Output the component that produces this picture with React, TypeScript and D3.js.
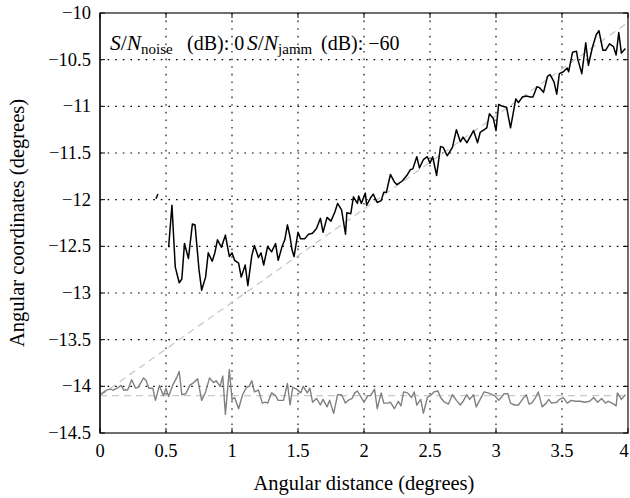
import * as d3 from "d3";

// x positions (degrees) and angular coordinate estimates
const fragX = [0.424, 0.439];
const fragY = [-11.99, -11.94];

const blackX = [
  0.52, 0.545, 0.57, 0.6, 0.62, 0.64, 0.67, 0.7, 0.72, 0.75, 0.77, 0.8, 0.82, 0.85, 0.87, 0.89, 0.92, 0.95, 0.98, 1.0,
  1.02, 1.05, 1.07, 1.1, 1.12, 1.15, 1.17, 1.2, 1.22, 1.24, 1.27, 1.3, 1.33, 1.35, 1.38, 1.4, 1.42, 1.44, 1.455, 1.47,
  1.5, 1.52, 1.55, 1.58, 1.61, 1.64, 1.67, 1.69, 1.72, 1.75, 1.78, 1.8, 1.83, 1.86, 1.87, 1.9, 1.92, 1.95, 1.96, 1.98,
  2.01, 2.02, 2.05, 2.07, 2.1, 2.13, 2.15, 2.17, 2.2, 2.23, 2.25, 2.29, 2.33, 2.35, 2.37, 2.4, 2.42, 2.45, 2.48, 2.5,
  2.52, 2.55, 2.58, 2.6, 2.63, 2.67, 2.7, 2.73, 2.75, 2.78, 2.83, 2.86, 2.88, 2.93, 2.95, 2.98, 3.0, 3.02, 3.05, 3.08,
  3.11, 3.15, 3.17, 3.2, 3.23, 3.26, 3.28, 3.31, 3.33, 3.36, 3.39, 3.41, 3.44, 3.46, 3.48, 3.51, 3.54, 3.55, 3.58, 3.61,
  3.62, 3.65, 3.68, 3.7, 3.73, 3.76, 3.78, 3.81, 3.83, 3.86, 3.89, 3.91, 3.93, 3.95, 3.98,
];
const blackY = [
  -12.51, -12.06, -12.72, -12.89, -12.85, -12.47, -12.63, -12.26, -12.27, -12.75, -12.97, -12.83, -12.57, -12.66, -12.57, -12.43, -12.51, -12.38, -12.61, -12.57,
  -12.65, -12.68, -12.83, -12.7, -12.92, -12.6, -12.49, -12.62, -12.57, -12.7, -12.5, -12.56, -12.47, -12.65, -12.5, -12.43, -12.27, -12.4, -12.54, -12.61,
  -12.35, -12.42, -12.42, -12.37, -12.36, -12.31, -12.2, -12.35, -12.19, -12.23, -12.13, -12.04, -12.11, -12.37, -12.14, -12.15, -11.97, -12.04, -11.96, -12.04,
  -11.93, -12.06, -11.98, -11.94, -12.03, -12.01, -11.92, -11.92, -11.73, -11.81, -11.84, -11.8, -11.73, -11.68, -11.67, -11.54, -11.66, -11.57, -11.54, -11.61,
  -11.54, -11.74, -11.43, -11.44, -11.53, -11.44, -11.25, -11.38, -11.33, -11.39, -11.26, -11.39, -11.28, -11.23, -11.08, -11.13, -11.26, -10.98, -11.0, -11.01,
  -11.23, -10.92, -10.96, -10.9, -10.89, -10.9, -10.9, -10.79, -10.8, -10.85, -10.68, -10.66, -10.74, -10.87, -10.65, -10.63, -10.59, -10.63, -10.42, -10.41,
  -10.5, -10.65, -10.32, -10.56, -10.37, -10.23, -10.19, -10.4, -10.4, -10.33, -10.36, -10.45, -10.21, -10.43, -10.38,
];

const grayX = [
  0, 0.02, 0.05, 0.08, 0.1, 0.13, 0.16, 0.18, 0.21, 0.24, 0.27, 0.29, 0.33, 0.35, 0.37, 0.4, 0.42, 0.45, 0.48, 0.5,
  0.52, 0.55, 0.58, 0.6, 0.62, 0.65, 0.68, 0.71, 0.74, 0.77, 0.8, 0.83, 0.86, 0.88, 0.91, 0.93, 0.95, 0.98, 1.0, 1.02,
  1.05, 1.08, 1.11, 1.13, 1.15, 1.17, 1.2, 1.23, 1.25, 1.27, 1.3, 1.33, 1.35, 1.39, 1.42, 1.44, 1.46, 1.49, 1.52, 1.54,
  1.57, 1.59, 1.61, 1.64, 1.67, 1.69, 1.72, 1.74, 1.77, 1.8, 1.83, 1.86, 1.88, 1.91, 1.93, 1.95, 1.98, 2.0, 2.03, 2.05,
  2.08, 2.1, 2.13, 2.15, 2.18, 2.2, 2.23, 2.26, 2.28, 2.3, 2.33, 2.36, 2.38, 2.4, 2.43, 2.45, 2.48, 2.51, 2.53, 2.56,
  2.58, 2.61, 2.64, 2.67, 2.7, 2.73, 2.75, 2.78, 2.8, 2.83, 2.85, 2.88, 2.91, 2.94, 2.97, 2.99, 3.02, 3.04, 3.06, 3.09,
  3.11, 3.14, 3.17, 3.2, 3.23, 3.25, 3.27, 3.3, 3.32, 3.35, 3.38, 3.4, 3.42, 3.46, 3.48, 3.51, 3.54, 3.57, 3.6, 3.64,
  3.67, 3.71, 3.74, 3.77, 3.8, 3.83, 3.85, 3.88, 3.91, 3.92, 3.95, 3.98,
];
const grayY = [
  -14.09, -14.07, -14.04, -14.03, -14.04, -14.02, -13.99, -14.04, -14.04, -13.93, -14.02, -14.01, -13.91, -13.94, -14.02, -14.02, -14.15, -13.99, -14.1, -14.02,
  -14.11, -13.99, -13.91, -13.84, -14.09, -14.08, -13.99, -13.96, -13.92, -14.15, -14.06, -13.91, -13.96, -13.94, -14.0, -13.89, -14.3, -13.82, -14.14, -14.12,
  -14.24, -14.09, -14.01, -14.0, -13.94, -14.06, -14.04, -14.18, -14.17, -14.18, -14.07, -14.1, -14.15, -14.15, -13.97, -14.2, -14.01, -14.03, -14.07, -14.0,
  -14.07, -14.02, -14.17, -14.13, -14.2, -14.14, -14.22, -14.15, -14.29, -14.09, -14.09, -14.18, -14.15, -14.13, -14.07, -14.05, -14.12, -14.17, -14.1, -14.1,
  -14.03, -14.24, -14.07, -14.18, -14.18, -14.17, -14.24, -14.16, -14.21, -14.06, -14.07, -14.12, -14.06, -14.2, -14.14, -14.29, -14.12, -14.09, -14.06, -14.05,
  -14.12, -14.17, -14.19, -14.09, -14.15, -14.2, -14.16, -14.09, -14.14, -14.09, -14.22, -14.14, -14.06, -14.07, -14.09, -14.1, -14.15, -14.12, -14.08, -14.08,
  -14.18, -14.2, -14.2, -14.14, -14.09, -14.19, -14.18, -14.12, -14.06, -14.22, -14.18, -14.14, -14.18, -14.17, -14.14, -14.12, -14.18, -14.15, -14.16, -14.16,
  -14.17, -14.16, -14.12, -14.17, -14.13, -14.18, -14.16, -14.18, -14.21, -14.07, -14.14, -14.09,
];

// reference lines (dashed)
const diagX = [0, 4];
const diagY = [-14.1, -10.1];
const flatX = [0, 4];
const flatY = [-14.1, -14.1];

const xTicks = [0, 0.5, 1, 1.5, 2, 2.5, 3, 3.5, 4];
const xTickLabels = ["0", "0.5", "1", "1.5", "2", "2.5", "3", "3.5", "4"];
const yTicks = [-14.5, -14, -13.5, -13, -12.5, -12, -11.5, -11, -10.5, -10];
const yTickLabels = ["−14.5", "−14", "−13.5", "−13", "−12.5", "−12", "−11.5", "−11", "−10.5", "−10"];

const W = 630;
const H = 498;
const left = 100;
const right = 628;
const top = 13;
const bottom = 433;
const font = "'Liberation Serif', 'DejaVu Serif', serif";

export default function App() {
  const x = d3.scaleLinear().domain([0, 4]).range([left, right]);
  const y = d3.scaleLinear().domain([-14.5, -10]).range([bottom, top]);

  const line = d3
    .line<[number, number]>()
    .x((d) => x(d[0]))
    .y((d) => y(d[1]));

  const pts = (xs: number[], ys: number[]) => xs.map((v, i) => [v, ys[i]] as [number, number]);

  return (
    <svg width={W} height={H} style={{ position: "absolute", left: 0, top: 0, background: "#fff" }} fontFamily={font}>
      {/* grid */}
      {xTicks.slice(1, -1).map((t) => (
        <line key={"gx" + t} x1={x(t)} x2={x(t)} y1={top} y2={bottom} stroke="#000" strokeWidth={1.1} strokeDasharray="1.6,6" />
      ))}
      {yTicks.slice(1, -1).map((t) => (
        <line key={"gy" + t} x1={left} x2={right} y1={y(t)} y2={y(t)} stroke="#000" strokeWidth={1.1} strokeDasharray="1.6,6" />
      ))}

      {/* dashed reference lines */}
      <path d={line(pts(flatX, flatY)) ?? ""} fill="none" stroke="#c8c8c8" strokeWidth={1.3} strokeDasharray="7,5" />
      <path d={line(pts(diagX, diagY)) ?? ""} fill="none" stroke="#c8c8c8" strokeWidth={1.3} strokeDasharray="7,5" />

      {/* series */}
      <path d={line(pts(grayX, grayY)) ?? ""} fill="none" stroke="#808080" strokeWidth={1.4} strokeLinejoin="round" />
      <path d={line(pts(fragX, fragY)) ?? ""} fill="none" stroke="#000" strokeWidth={1.5} />
      <path d={line(pts(blackX, blackY)) ?? ""} fill="none" stroke="#000" strokeWidth={1.5} strokeLinejoin="round" />

      {/* frame */}
      <rect x={left} y={top} width={right - left} height={bottom - top} fill="none" stroke="#222" strokeWidth={1.3} />
      <line x1={left} x2={left} y1={top} y2={bottom} stroke="#333" strokeWidth={2} />

      {/* ticks */}
      {xTicks.map((t) => (
        <g key={"tx" + t}>
          <line x1={x(t)} x2={x(t)} y1={bottom} y2={bottom - 5} stroke="#000" />
          <line x1={x(t)} x2={x(t)} y1={top} y2={top + 5} stroke="#000" />
        </g>
      ))}
      {yTicks.map((t) => (
        <g key={"ty" + t}>
          <line x1={left} x2={left + 5} y1={y(t)} y2={y(t)} stroke="#000" />
          <line x1={right} x2={right - 5} y1={y(t)} y2={y(t)} stroke="#000" />
        </g>
      ))}

      {/* tick labels */}
      {xTicks.map((t, i) => (
        <text key={"lx" + t} x={Math.min(x(t), 624)} y={457} textAnchor="middle" fontSize={18.5} fill="#000">
          {xTickLabels[i]}
        </text>
      ))}
      {yTicks.map((t, i) => (
        <text key={"ly" + t} x={91} y={y(t) + 6} textAnchor="end" fontSize={18.5} fill="#000">
          {yTickLabels[i]}
        </text>
      ))}

      {/* axis titles */}
      <text x={(left + right) / 2} y={490} textAnchor="middle" fontSize={20.5} fill="#000">
        Angular distance (degrees)
      </text>
      <text transform={`translate(24,${(top + bottom) / 2}) rotate(-90)`} textAnchor="middle" fontSize={20.5} fill="#000">
        Angular coordinates (degrees)
      </text>

      {/* annotation */}
      <text y={50} fontSize={20} fill="#000">
        <tspan x={110} fontSize={21.5} fontStyle="italic">S</tspan>
        <tspan fontSize={21.5}>/</tspan>
        <tspan fontSize={21.5} fontStyle="italic">N</tspan>
        <tspan fontSize={15} dy={4}>noise</tspan>
        <tspan x={187} dy={-4}>(dB): 0</tspan>
        <tspan x={247} fontSize={21.5} fontStyle="italic">S</tspan>
        <tspan fontSize={21.5}>/</tspan>
        <tspan fontSize={21.5} fontStyle="italic">N</tspan>
        <tspan fontSize={15} dy={4}>jamm</tspan>
        <tspan x={321} dy={-4}>(dB): −60</tspan>
      </text>
    </svg>
  );
}
